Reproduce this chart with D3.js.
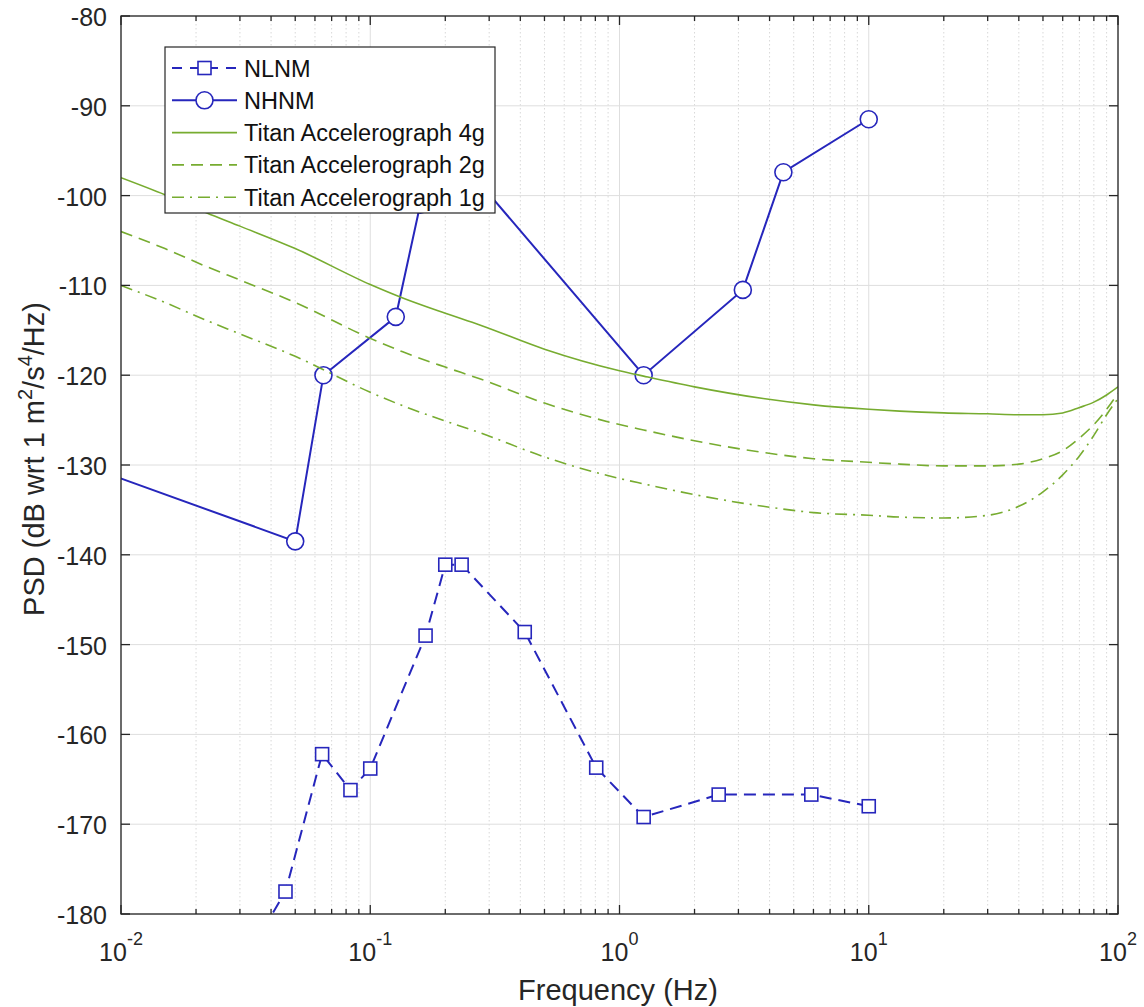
<!DOCTYPE html>
<html>
<head>
<meta charset="utf-8">
<script src="https://cdn.jsdelivr.net/npm/d3@7"></script>
<style>
  html, body { margin: 0; padding: 0; background: #fff; }
  svg { display: block; font-family: "Liberation Sans", Arial, sans-serif; }
</style>
</head>
<body>
<svg id="chart" width="1144" height="1007"></svg>
<script>
// ---------------- DATA ----------------
const nlnmFreq = [10, 5.882, 2.5, 1.25, 0.8065, 0.4167, 0.2326, 0.2, 0.1667, 0.1, 0.0833, 0.0641, 0.0457, 0.0316, 0.0222];
const nlnmPSD  = [-168.0, -166.7, -166.7, -169.2, -163.7, -148.6, -141.1, -141.1, -149.0, -163.8, -166.2, -162.2, -177.5, -185.0, -187.5];

const nhnmFreq = [10, 4.545, 3.125, 1.25, 0.2632, 0.2174, 0.1587, 0.1266, 0.0649, 0.05, 0.00282];
const nhnmPSD  = [-91.5, -97.4, -110.5, -120.0, -98.0, -96.5, -101.0, -113.5, -120.0, -138.5, -126.0];

const titanFreq = [0.01, 0.015, 0.022, 0.03, 0.05, 0.1, 0.135, 0.2, 0.275, 0.5, 1, 1.25, 2, 3.77, 6, 10, 13.3, 20, 30, 40, 50, 60, 70, 80, 90, 100];
const titan4g = [-98.0, -99.9, -101.9, -103.4, -105.9, -109.9, -111.4, -113.1, -114.4, -117.1, -119.5, -120.1, -121.3, -122.6, -123.3, -123.8, -124.0, -124.2, -124.3, -124.4, -124.4, -124.2, -123.6, -123.0, -122.2, -121.3];
const titan2g = [-104.0, -105.9, -107.9, -109.4, -111.9, -115.9, -117.4, -119.1, -120.4, -123.1, -125.5, -126.1, -127.3, -128.6, -129.3, -129.7, -129.9, -130.1, -130.1, -129.9, -129.3, -128.4, -127.0, -125.5, -123.8, -122.0];
const titan1g = [-110.0, -111.9, -113.9, -115.4, -117.9, -121.9, -123.4, -125.1, -126.4, -129.1, -131.5, -132.1, -133.3, -134.6, -135.3, -135.6, -135.8, -135.9, -135.6, -134.6, -133.0, -131.1, -129.0, -126.7, -124.4, -122.6];

const xTickExps = [-2, -1, 0, 1, 2];
const yTicks = [-180, -170, -160, -150, -140, -130, -120, -110, -100, -90, -80];

const legendLabels = ["NLNM", "NHNM", "Titan Accelerograph 4g", "Titan Accelerograph 2g", "Titan Accelerograph 1g"];

// ---------------- LAYOUT ----------------
const L = 121, R = 1118, T = 16, B = 914;
const blue = "#2626bc";
const green = "#77ac30";
const axisColor = "#262626";

const svg = d3.select("#chart");
const x = d3.scaleLog().domain([0.01, 100]).range([L, R]);
const y = d3.scaleLinear().domain([-180, -80]).range([B, T]);

svg.append("defs").append("clipPath").attr("id", "clip")
  .append("rect").attr("x", L).attr("y", T).attr("width", R - L).attr("height", B - T);

// minor grid (x only)
const minorVals = [];
for (let e = -2; e < 2; e++) for (let m = 2; m <= 9; m++) minorVals.push(m * Math.pow(10, e));
const grid = svg.append("g");
grid.selectAll(".minor").data(minorVals).enter().append("line")
  .attr("x1", d => x(d)).attr("x2", d => x(d)).attr("y1", T).attr("y2", B)
  .attr("stroke", "#d8d8d8").attr("stroke-width", 1).attr("stroke-dasharray", "1.5,2.5");
// major grid
grid.selectAll(".majx").data(xTickExps).enter().append("line")
  .attr("x1", d => x(Math.pow(10, d))).attr("x2", d => x(Math.pow(10, d))).attr("y1", T).attr("y2", B)
  .attr("stroke", "#dedede").attr("stroke-width", 1);
grid.selectAll(".majy").data(yTicks).enter().append("line")
  .attr("x1", L).attr("x2", R).attr("y1", d => y(d)).attr("y2", d => y(d))
  .attr("stroke", "#dedede").attr("stroke-width", 1);

const plot = svg.append("g").attr("clip-path", "url(#clip)");
const line = d3.line().x(d => x(d[0])).y(d => y(d[1]));
const smooth = d3.line().x(d => x(d[0])).y(d => y(d[1])).curve(d3.curveMonotoneX);

const nlnm = nlnmFreq.map((f, i) => [f, nlnmPSD[i]]);
const nhnm = nhnmFreq.map((f, i) => [f, nhnmPSD[i]]);

// NLNM
plot.append("path").datum(nlnm).attr("d", line).attr("fill", "none")
  .attr("stroke", blue).attr("stroke-width", 2).attr("stroke-dasharray", "12,7");
plot.selectAll(".sq").data(nlnm).enter().append("rect")
  .attr("x", d => x(d[0]) - 6.5).attr("y", d => y(d[1]) - 6.5).attr("width", 13).attr("height", 13)
  .attr("fill", "#fff").attr("stroke", blue).attr("stroke-width", 1.6);

// NHNM
plot.append("path").datum(nhnm).attr("d", line).attr("fill", "none")
  .attr("stroke", blue).attr("stroke-width", 2);
plot.selectAll(".ci").data(nhnm).enter().append("circle")
  .attr("cx", d => x(d[0])).attr("cy", d => y(d[1])).attr("r", 8.5)
  .attr("fill", "#fff").attr("stroke", blue).attr("stroke-width", 1.6);

// Titan curves
const styles = [null, "12,7", "12,6,2,6"];
[titan4g, titan2g, titan1g].forEach((vals, k) => {
  const p = plot.append("path").datum(titanFreq.map((f, i) => [f, vals[i]]))
    .attr("d", smooth).attr("fill", "none").attr("stroke", green).attr("stroke-width", 1.6);
  if (styles[k]) p.attr("stroke-dasharray", styles[k]);
});

// ---------------- AXES ----------------
const ax = svg.append("g").attr("stroke", axisColor).attr("stroke-width", 1.3);
ax.append("rect").attr("x", L).attr("y", T).attr("width", R - L).attr("height", B - T).attr("fill", "none");
xTickExps.forEach(e => {
  const xx = x(Math.pow(10, e));
  ax.append("line").attr("x1", xx).attr("x2", xx).attr("y1", B).attr("y2", B - 9);
  ax.append("line").attr("x1", xx).attr("x2", xx).attr("y1", T).attr("y2", T + 9);
});
minorVals.forEach(v => {
  const xx = x(v);
  ax.append("line").attr("x1", xx).attr("x2", xx).attr("y1", B).attr("y2", B - 5);
  ax.append("line").attr("x1", xx).attr("x2", xx).attr("y1", T).attr("y2", T + 5);
});
yTicks.forEach(v => {
  const yy = y(v);
  ax.append("line").attr("x1", L).attr("x2", L + 9).attr("y1", yy).attr("y2", yy);
  ax.append("line").attr("x1", R).attr("x2", R - 9).attr("y1", yy).attr("y2", yy);
});

// tick labels
const txt = svg.append("g").attr("fill", axisColor);
yTicks.forEach(v => {
  txt.append("text").attr("x", 107).attr("y", y(v) + 10).attr("text-anchor", "end")
    .attr("font-size", 25).text(v);
});
xTickExps.forEach(e => {
  const t = txt.append("text").attr("x", x(Math.pow(10, e))).attr("y", 961)
    .attr("text-anchor", "middle").attr("font-size", 25);
  t.append("tspan").text("10");
  t.append("tspan").attr("font-size", 18).attr("dy", -16).text(e);
});

// axis labels
txt.append("text").attr("x", 618).attr("y", 1000).attr("text-anchor", "middle")
  .attr("font-size", 29).text("Frequency (Hz)");
const yl = txt.append("text").attr("transform", "translate(44,459) rotate(-90)")
  .attr("text-anchor", "middle").attr("font-size", 29);
yl.append("tspan").text("PSD (dB wrt 1 m");
yl.append("tspan").attr("font-size", 20).attr("dy", -12).text("2");
yl.append("tspan").attr("dy", 12).text("/s");
yl.append("tspan").attr("font-size", 20).attr("dy", -12).text("4");
yl.append("tspan").attr("dy", 12).text("/Hz)");

// ---------------- LEGEND ----------------
const lg = svg.append("g");
lg.append("rect").attr("x", 165).attr("y", 47).attr("width", 330).attr("height", 166)
  .attr("fill", "#fff").attr("stroke", axisColor).attr("stroke-width", 1.2);
const rowY = i => 68 + i * 32.3;
legendLabels.forEach((lab, i) => {
  const yy = rowY(i);
  const l = lg.append("line").attr("x1", 172).attr("x2", 237).attr("y1", yy).attr("y2", yy)
    .attr("stroke", i < 2 ? blue : green).attr("stroke-width", i < 2 ? 2 : 1.6);
  if (i === 0) l.attr("stroke-dasharray", "10,8");
  if (i === 3) l.attr("stroke-dasharray", "12,7");
  if (i === 4) l.attr("stroke-dasharray", "12,6,2,6");
  if (i === 0) lg.append("rect").attr("x", 198).attr("y", yy - 6.5).attr("width", 13).attr("height", 13)
    .attr("fill", "#fff").attr("stroke", blue).attr("stroke-width", 1.6);
  if (i === 1) lg.append("circle").attr("cx", 204.5).attr("cy", yy).attr("r", 8.5)
    .attr("fill", "#fff").attr("stroke", blue).attr("stroke-width", 1.6);
  lg.append("text").attr("x", 244).attr("y", yy + 8.5).attr("font-size", 23.5)
    .attr("fill", "#111").text(lab);
});
</script>
</body>
</html>
